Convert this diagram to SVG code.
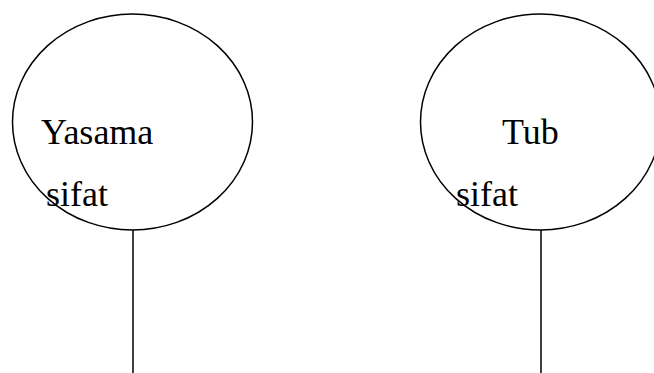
<svg xmlns="http://www.w3.org/2000/svg" width="654" height="373" viewBox="0 0 654 373">
<style>
.shape{fill:none;stroke:#000;stroke-width:1.5}
.lbl{font-family:"Liberation Serif","Times New Roman",serif;font-size:36px;fill:#000}
</style>
<rect width="654" height="373" fill="#fff"/>
<g id="node-yasama">
<ellipse class="shape" cx="132.5" cy="122" rx="120" ry="108"/>
<text class="lbl" x="41" y="144">Yasama</text>
<text class="lbl" x="46" y="206">sifat</text>
</g>
<g id="node-tub">
<ellipse class="shape" cx="540.5" cy="122" rx="120" ry="108"/>
<text class="lbl" x="502" y="144">Tub</text>
<text class="lbl" x="456" y="206">sifat</text>
</g>
<g id="connectors">
<line class="shape" x1="133" y1="230" x2="133" y2="373"/>
<line class="shape" x1="541" y1="230" x2="541" y2="373"/>
</g>
</svg>
